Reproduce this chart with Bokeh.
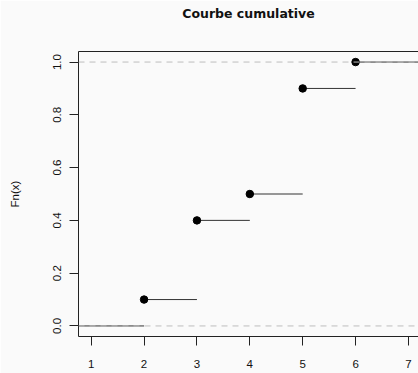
from bokeh.plotting import figure
from bokeh.models import LinearAxis, FixedTicker, Range1d, Span, NumeralTickFormatter
from bokeh.embed import file_html
from bokeh.resources import INLINE

# data
title = "Courbe cumulative"
y_label = "Fn(x)"
knots = [2, 3, 4, 5, 6]
fn_values = [0.1, 0.4, 0.5, 0.9, 1.0]
x_ticks = [1, 2, 3, 4, 5, 6, 7]
y_ticks = [0.0, 0.2, 0.4, 0.6, 0.8, 1.0]

x_lo, x_hi = 0.76, 7.19
y_lo, y_hi = -0.04, 1.04

bg = "#fafafa"
font = "Liberation Sans"

p = figure(width=418, height=373, output_backend="svg", toolbar_location=None,
           x_range=Range1d(x_lo, x_hi), y_range=Range1d(y_lo, y_hi),
           min_border_left=78, min_border_right=0, min_border_top=51, min_border_bottom=37,
           x_axis_location=None, y_axis_location=None, title=None,
           background_fill_color=bg, border_fill_color=bg, outline_line_color=None)
p.grid.visible = False

def style_axis(ax, ticks):
    ax.ticker = FixedTicker(ticks=ticks)
    ax.axis_line_color = "#222222"
    ax.major_tick_line_color = "#222222"
    ax.major_tick_out = 9
    ax.major_tick_in = 0
    ax.minor_tick_line_color = None
    ax.major_label_text_font = font
    ax.major_label_text_font_size = "11.5px"
    ax.major_label_text_color = "#111111"
    ax.axis_label_text_font = font
    ax.axis_label_text_font_size = "11.5px"
    ax.axis_label_text_font_style = "normal"
    ax.axis_label_text_color = "#111111"

xa = LinearAxis()
style_axis(xa, x_ticks)
xa.major_label_standoff = 14
p.add_layout(xa, "below")

ya = LinearAxis(axis_label=y_label)
style_axis(ya, y_ticks)
ya.formatter = NumeralTickFormatter(format="0.0")
ya.major_label_orientation = "vertical"
ya.major_label_standoff = 8
ya.axis_label_standoff = 30
p.add_layout(ya, "left")

# top border of the box, carrying the title
top = LinearAxis(axis_label=title)
top.ticker = FixedTicker(ticks=x_ticks)
top.axis_line_color = "#222222"
top.major_tick_line_color = None
top.minor_tick_line_color = None
top.major_label_text_font_size = "1px"
top.major_label_text_alpha = 0
top.major_label_standoff = 0
top.axis_label_standoff = 25
top.axis_label_text_font = "DejaVu Sans"
top.axis_label_text_font_style = "bold"
top.axis_label_text_font_size = "12.5px"
top.axis_label_text_color = "#111111"
p.add_layout(top, "above")

# step segments
seg_x0 = [x_lo - 1] + knots
seg_x1 = knots + [x_hi + 1]
seg_y = [0.0] + fn_values
p.segment(x0=seg_x0, y0=seg_y, x1=seg_x1, y1=seg_y, line_color="#333333", line_width=1)

for h in (0.0, 1.0):
    p.add_layout(Span(location=h, dimension="width", line_color="#bdbdbd",
                      line_dash="6 5", line_width=1))

p.scatter(knots, fn_values, size=7.5, color="black")

open("out.html", "w").write(file_html(p, INLINE))
